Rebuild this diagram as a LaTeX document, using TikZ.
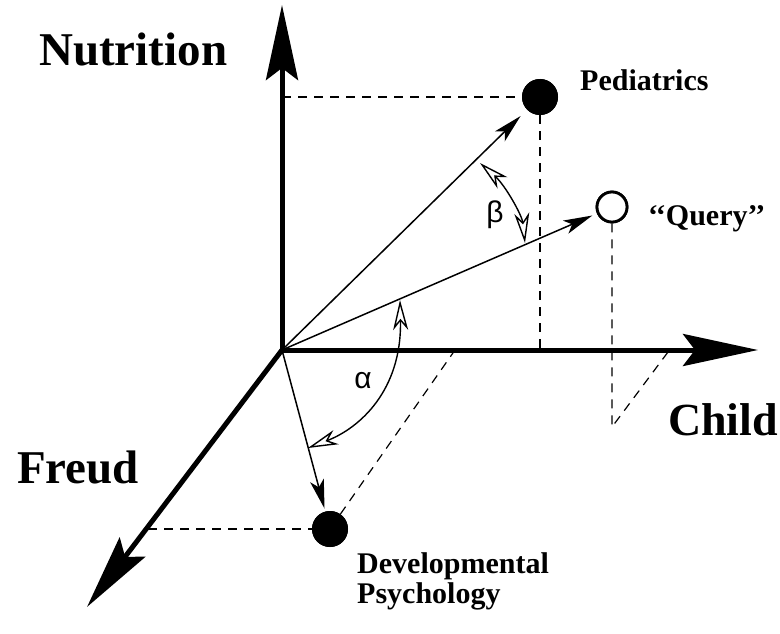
\documentclass[tikz,border=0pt]{standalone}
\usepackage{fontspec}
\setmainfont{Liberation Serif}
\newfontfamily\greekfont{Liberation Sans}
\usetikzlibrary{arrows.meta}
\begin{document}
\begin{tikzpicture}[x=1pt,y=-1pt,
  axis/.style={line width=5pt,-{Stealth[length=75pt,width=32pt,inset=12pt]}},
  vec/.style={line width=1.5pt,-{Stealth[length=29pt,width=14pt,inset=7pt]}},
  angarc/.style={line width=1.4pt,
    {Stealth[length=30pt,width=15pt,inset=9pt,fill=white]}-{Stealth[length=30pt,width=15pt,inset=9pt,fill=white]}},
  proj/.style={line width=1.2pt,dash pattern=on 9pt off 7pt},
  dot/.style={circle,fill=black,minimum size=36pt,inner sep=0pt},
  qdot/.style={circle,draw=black,fill=white,line width=2.8pt,minimum size=30pt,inner sep=0pt},
  axislabel/.style={font=\fontsize{47}{47}\selectfont\bfseries,inner sep=0pt,anchor=base west},
  termlabel/.style={font=\fontsize{30}{30}\selectfont\bfseries,inner sep=0pt,anchor=base west},
  greek/.style={font=\greekfont\fontsize{30}{30}\selectfont,inner sep=0pt}
]
\useasboundingbox (0,0) rectangle (780,634);

% origin and axis tips
\coordinate (O) at (282,350);
\coordinate (ytip) at (282,5);
\coordinate (xtip) at (758,350);
\coordinate (ztip) at (87,607);

% document / query points
\node[dot] (ped) at (540,97) {};
\node[qdot] (q) at (612,207) {};
\node[dot] (dev) at (330,529) {};

% feet of the projections
\coordinate (pedY) at (282,97);
\coordinate (pedX) at (540,350);
\coordinate (qfoot) at (612,427);
\coordinate (qX) at (668,352);
\coordinate (devZ) at (148,529);
\coordinate (devX) at (455,350);

% projection lines
\draw[proj] (pedY) -- (ped);
\draw[proj] (ped) -- (pedX);
\draw[proj] (q) -- (qfoot) -- (qX);
\draw[proj] (devZ) -- (dev);
\draw[proj] (dev) -- (devX);

% axes
\draw[axis] (O) -- (ytip);
\draw[axis] (O) -- (xtip);
\draw[axis] (O) -- (ztip);

% vectors
\draw[vec,shorten >=9pt] (O) -- (ped);
\draw[vec,shorten >=5pt] (O) -- (q);
\draw[vec,shorten >=3pt] (O) -- (dev);

% angle arcs
\coordinate (b1) at (480,163);
\coordinate (b2) at (525,243);
\coordinate (a1) at (400,300);
\coordinate (a2) at (308,448);
\draw[angarc] (b1) .. controls (505,185) and (522,215) .. (b2);
\draw[angarc] (a1) .. controls (402,390) and (360,428) .. (a2);

% redraw dots above the arrows
\node[dot] at (ped) {};
\node[qdot] at (q) {};
\node[dot] at (dev) {};

% labels
\node[greek] (alpha) at (363,381) {α};
\node[greek] (beta) at (495,215) {β};
\node[axislabel] (nut) at (39,66) {Nutrition};
\node[axislabel] (freud) at (17,483) {Freud};
\node[axislabel,font=\fontsize{46}{46}\selectfont\bfseries] (child) at (668,435) {Child};
\node[termlabel] (pedl) at (580,91) {Pediatrics};
\node[termlabel] (ql) at (648,225) {‘‘Query’’};
\node[termlabel,align=left,anchor=north west] (devl) at (357,552)
  {\fontsize{30}{28}\selectfont Developmental\\Psychology};
\end{tikzpicture}
\end{document}
